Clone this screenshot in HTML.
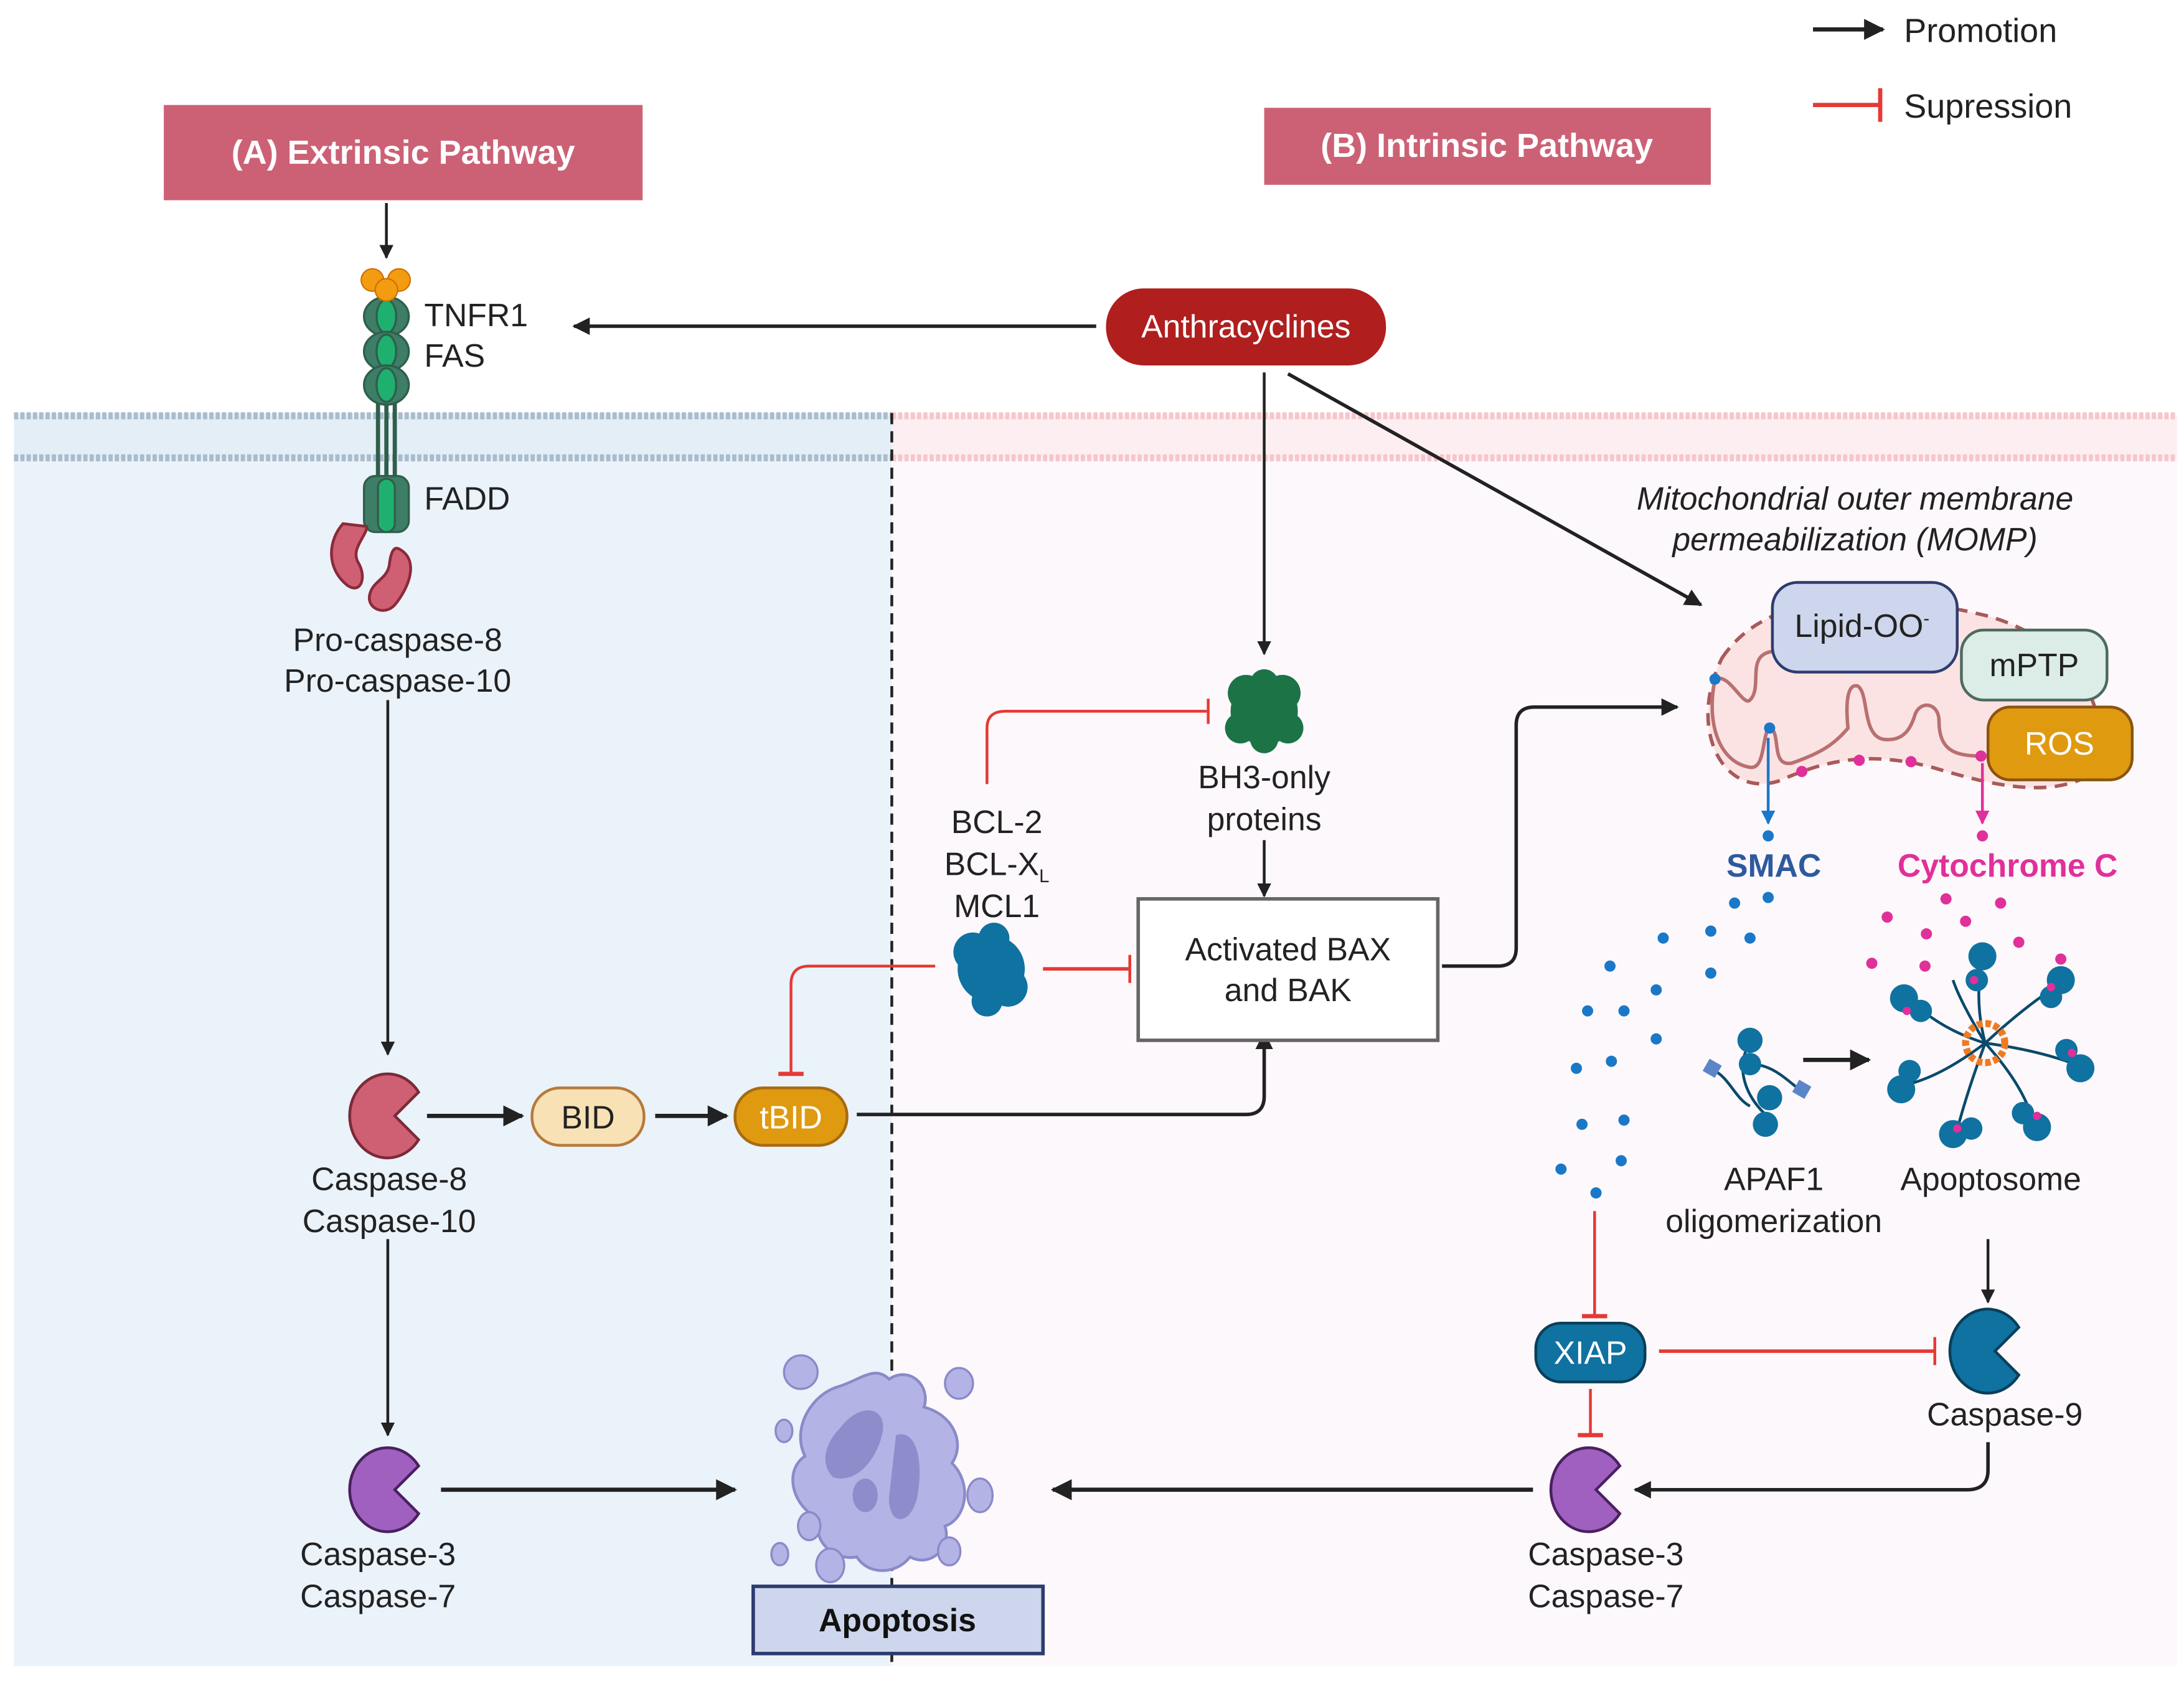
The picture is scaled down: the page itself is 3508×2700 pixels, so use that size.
<!DOCTYPE html>
<html><head><meta charset="utf-8"><style>
html,body{margin:0;padding:0;background:#fff;}
svg{display:block;}
text{font-family:"Liberation Sans",sans-serif;}
</style></head><body>
<svg width="3508" height="2700" viewBox="0 0 1560 1200.6" preserveAspectRatio="none" xmlns="http://www.w3.org/2000/svg">
<defs>
<marker id="ah" viewBox="0 0 10 10" refX="9" refY="5" markerWidth="5" markerHeight="5" orient="auto"><path d="M0,0 L10,5 L0,10 Z" fill="#222"/></marker>
<marker id="ahb" viewBox="0 0 10 10" refX="9" refY="5" markerWidth="5" markerHeight="5" orient="auto"><path d="M0,0 L10,5 L0,10 Z" fill="#1a78c8"/></marker>
<marker id="ahp" viewBox="0 0 10 10" refX="9" refY="5" markerWidth="5" markerHeight="5" orient="auto"><path d="M0,0 L10,5 L0,10 Z" fill="#e0309a"/></marker>
</defs>
<rect width="1560" height="1201" fill="#fff"/>
<!-- regions -->
<rect x="10" y="295" width="627" height="895" fill="#eaf2fa"/>
<rect x="637" y="295" width="918" height="895" fill="#fdf8fb"/>
<!-- membrane -->
<rect x="10" y="297" width="627" height="31" fill="#e4eef6"/>
<rect x="637" y="297" width="918" height="31" fill="#fdeff1"/>
<line x1="10" y1="297" x2="637" y2="297" stroke="#a9bccb" stroke-width="5" stroke-dasharray="3 1.5"/>
<line x1="10" y1="327" x2="637" y2="327" stroke="#a9bccb" stroke-width="5" stroke-dasharray="3 1.5"/>
<line x1="637" y1="297" x2="1555" y2="297" stroke="#f6c6cc" stroke-width="5" stroke-dasharray="3 1.5"/>
<line x1="637" y1="327" x2="1555" y2="327" stroke="#f6c6cc" stroke-width="5" stroke-dasharray="3 1.5"/>
<line x1="637" y1="295" x2="637" y2="1190" stroke="#222" stroke-width="2" stroke-dasharray="8 5"/>

<!-- legend -->
<line x1="1295" y1="21" x2="1345" y2="21" stroke="#222" stroke-width="3" marker-end="url(#ah)"/>
<text x="1360" y="30" font-size="24" fill="#222">Promotion</text>
<line x1="1295" y1="75" x2="1343" y2="75" stroke="#e53935" stroke-width="3"/>
<line x1="1343" y1="63" x2="1343" y2="87" stroke="#e53935" stroke-width="3"/>
<text x="1360" y="84" font-size="24" fill="#222">Supression</text>

<!-- headers -->
<rect x="117" y="75" width="342" height="68" fill="#cc6176"/>
<text x="288" y="117" font-size="24" font-weight="bold" fill="#fff" text-anchor="middle">(A) Extrinsic  Pathway</text>
<rect x="903" y="77" width="319" height="55" fill="#cc6176"/>
<text x="1062" y="112" font-size="24" font-weight="bold" fill="#fff" text-anchor="middle">(B) Intrinsic  Pathway</text>

<line x1="276" y1="145" x2="276" y2="184" stroke="#222" stroke-width="2" marker-end="url(#ah)"/>

<!-- receptor -->
<line x1="270" y1="280" x2="270" y2="345" stroke="#2f5f4c" stroke-width="3"/>
<line x1="276" y1="280" x2="276" y2="345" stroke="#2f5f4c" stroke-width="3"/>
<line x1="282" y1="280" x2="282" y2="345" stroke="#2f5f4c" stroke-width="3"/>
<g stroke="#2f5f4c" stroke-width="1.5">
<ellipse cx="276" cy="226" rx="16" ry="14" fill="#3e7d66"/><ellipse cx="276" cy="226" rx="7" ry="12" fill="#1fb070"/>
<ellipse cx="276" cy="251" rx="16" ry="14" fill="#3e7d66"/><ellipse cx="276" cy="251" rx="7" ry="12" fill="#1fb070"/>
<ellipse cx="276" cy="275" rx="16" ry="14" fill="#3e7d66"/><ellipse cx="276" cy="275" rx="7" ry="12" fill="#1fb070"/>
<rect x="260" y="340" width="32" height="40" rx="8" fill="#3e7d66"/><rect x="270" y="342" width="12" height="38" rx="6" fill="#1fb070"/>
</g>
<g fill="#f39c12" stroke="#d07000" stroke-width="1">
<circle cx="266" cy="200" r="8"/><circle cx="285" cy="200" r="8"/><circle cx="276" cy="207" r="8"/>
</g>
<path d="M245,374 C235,385 232,405 248,418 C258,425 262,412 256,402 C250,392 262,383 262,376 Z" fill="#cf5f72" stroke="#8a2a3a" stroke-width="2"/>
<path d="M285,392 C300,400 292,420 282,432 C275,440 262,435 264,425 C266,415 276,414 278,404 C279,395 281,390 285,392 Z" fill="#cf5f72" stroke="#8a2a3a" stroke-width="2"/>
<text x="303" y="233" font-size="23" fill="#222">TNFR1</text>
<text x="303" y="262" font-size="23" fill="#222">FAS</text>
<text x="303" y="364" font-size="23" fill="#222">FADD</text>
<text x="284" y="465" font-size="23" fill="#222" text-anchor="middle">Pro-caspase-8</text>
<text x="284" y="494" font-size="23" fill="#222" text-anchor="middle">Pro-caspase-10</text>

<!-- Anthracyclines -->
<rect x="790" y="206" width="200" height="55" rx="27" fill="#b01e1e"/>
<text x="890" y="241" font-size="23" fill="#fff" text-anchor="middle">Anthracyclines</text>
<line x1="783" y1="233" x2="410" y2="233" stroke="#222" stroke-width="2.5" marker-end="url(#ah)"/>
<line x1="903" y1="266" x2="903" y2="467" stroke="#222" stroke-width="2" marker-end="url(#ah)"/>
<line x1="920" y1="267" x2="1215" y2="432" stroke="#222" stroke-width="2.5" marker-end="url(#ah)"/>

<text x="1325" y="364" font-size="23" fill="#222" text-anchor="middle" font-style="italic">Mitochondrial outer membrane</text>
<text x="1325" y="393" font-size="23" fill="#222" text-anchor="middle" font-style="italic">permeabilization (MOMP)</text>

<!-- extrinsic chain -->
<line x1="277" y1="500" x2="277" y2="753" stroke="#222" stroke-width="2" marker-end="url(#ah)"/>
<path d="M299,780 A27 30 0 1 0 299,814 L282,797 Z" fill="#cf5f72" stroke="#7a2a38" stroke-width="2"/>
<text x="278" y="850" font-size="23" fill="#222" text-anchor="middle">Caspase-8</text>
<text x="278" y="880" font-size="23" fill="#222" text-anchor="middle">Caspase-10</text>
<line x1="305" y1="797" x2="373" y2="797" stroke="#222" stroke-width="3" marker-end="url(#ah)"/>
<rect x="380" y="777" width="80" height="41" rx="20" fill="#f8e1b5" stroke="#b77a3a" stroke-width="2"/>
<text x="420" y="806" font-size="23" fill="#222" text-anchor="middle">BID</text>
<line x1="468" y1="797" x2="519" y2="797" stroke="#222" stroke-width="3" marker-end="url(#ah)"/>
<rect x="525" y="777" width="80" height="41" rx="20" fill="#e09a10" stroke="#a86a10" stroke-width="2"/>
<text x="565" y="806" font-size="23" fill="#fff" text-anchor="middle">tBID</text>
<path d="M612,796 L890,796 Q903,796 903,783 L903,738" fill="none" stroke="#222" stroke-width="2.5" marker-end="url(#ah)"/>
<path d="M565,767 L565,703 Q565,690 578,690 L668,690" fill="none" stroke="#e53935" stroke-width="2"/>
<line x1="556" y1="767" x2="574" y2="767" stroke="#e53935" stroke-width="3"/>

<line x1="277" y1="885" x2="277" y2="1025" stroke="#222" stroke-width="2" marker-end="url(#ah)"/>
<path d="M299,1047 A27 30 0 1 0 299,1081 L282,1064 Z" fill="#a060c0" stroke="#4a2060" stroke-width="2"/>
<text x="270" y="1118" font-size="23" fill="#222" text-anchor="middle">Caspase-3</text>
<text x="270" y="1148" font-size="23" fill="#222" text-anchor="middle">Caspase-7</text>
<line x1="315" y1="1064" x2="525" y2="1064" stroke="#222" stroke-width="3" marker-end="url(#ah)"/>

<!-- BCL / BH3 -->
<g fill="#0f72a0"><circle cx="708" cy="692" r="24"/><circle cx="695" cy="680" r="14"/><circle cx="720" cy="705" r="14"/><circle cx="710" cy="670" r="11"/><circle cx="705" cy="715" r="11"/></g>
<line x1="745" y1="692" x2="806" y2="692" stroke="#e53935" stroke-width="2.5"/>
<line x1="807" y1="682" x2="807" y2="702" stroke="#e53935" stroke-width="2"/>
<text x="712" y="595" font-size="23" fill="#222" text-anchor="middle">BCL-2</text>
<text x="712" y="625" font-size="23" fill="#222" text-anchor="middle">BCL-X<tspan font-size="13" dy="5">L</tspan></text>
<text x="712" y="655" font-size="23" fill="#222" text-anchor="middle">MCL1</text>
<path d="M705,560 L705,520 Q705,508 718,508 L862,508" fill="none" stroke="#e53935" stroke-width="2"/>
<line x1="863" y1="499" x2="863" y2="517" stroke="#e53935" stroke-width="2"/>
<g fill="#1b7346"><circle cx="903" cy="508" r="24"/><circle cx="890" cy="495" r="13"/><circle cx="916" cy="495" r="13"/><circle cx="903" cy="488" r="10"/><circle cx="903" cy="528" r="10"/><circle cx="886" cy="520" r="11"/><circle cx="920" cy="520" r="11"/></g>
<text x="903" y="563" font-size="23" fill="#222" text-anchor="middle">BH3-only</text>
<text x="903" y="593" font-size="23" fill="#222" text-anchor="middle">proteins</text>
<line x1="903" y1="600" x2="903" y2="640" stroke="#222" stroke-width="2" marker-end="url(#ah)"/>
<rect x="813" y="642" width="214" height="101" fill="#fff" stroke="#666" stroke-width="2.5"/>
<text x="920" y="686" font-size="23" fill="#222" text-anchor="middle">Activated BAX</text>
<text x="920" y="715" font-size="23" fill="#222" text-anchor="middle">and BAK</text>
<path d="M1030,690 L1070,690 Q1083,690 1083,677 L1083,518 Q1083,505 1096,505 L1198,505" fill="none" stroke="#222" stroke-width="2.5" marker-end="url(#ah)"/>

<!-- mitochondria -->
<path d="M1230,470 C1260,425 1330,418 1420,440 C1490,460 1515,520 1490,555 C1460,570 1420,560 1380,548 C1330,535 1300,545 1270,558 C1230,570 1205,520 1230,470 Z" fill="#fbe3e3" stroke="#a85a5a" stroke-width="2.5" stroke-dasharray="9 6"/>
<path d="M1225,485 C1235,480 1245,505 1250,500 C1260,490 1245,465 1270,465 M1225,485 C1218,520 1230,545 1250,548 C1262,550 1258,520 1265,520 C1272,525 1265,548 1280,545 C1300,538 1310,532 1320,520 C1318,500 1320,488 1327,490 C1335,495 1330,525 1345,528 C1360,530 1365,520 1368,510 C1372,500 1385,502 1385,515 C1385,535 1395,540 1415,540" fill="none" stroke="#b97070" stroke-width="2.5"/>
<rect x="1266" y="416" width="132" height="64" rx="18" fill="#cdd6ec" stroke="#2d3c6e" stroke-width="2"/>
<text x="1330" y="455" font-size="23" fill="#222" text-anchor="middle">Lipid-OO<tspan font-size="13" dy="-9">-</tspan></text>
<rect x="1401" y="450" width="104" height="50" rx="16" fill="#dcece6" stroke="#4d6a60" stroke-width="2"/>
<text x="1453" y="483" font-size="23" fill="#222" text-anchor="middle">mPTP</text>
<rect x="1420" y="505" width="103" height="52" rx="16" fill="#e09a10" stroke="#8a5510" stroke-width="2"/>
<text x="1471" y="539" font-size="23" fill="#fff" text-anchor="middle">ROS</text>
<circle cx="1225" cy="485" r="4" fill="#1a78c8"/><circle cx="1264" cy="520" r="4" fill="#1a78c8"/>
<g fill="#e0309a"><circle cx="1287" cy="551" r="4"/><circle cx="1328" cy="543" r="4"/><circle cx="1365" cy="544" r="4"/><circle cx="1415" cy="540" r="4"/></g>
<line x1="1263" y1="527" x2="1263" y2="588" stroke="#1a78c8" stroke-width="2" marker-end="url(#ahb)"/>
<line x1="1416" y1="545" x2="1416" y2="588" stroke="#e0309a" stroke-width="2" marker-end="url(#ahp)"/>
<text x="1267" y="626" font-size="23" font-weight="bold" fill="#2d5a9e" text-anchor="middle">SMAC</text>
<text x="1434" y="626" font-size="23" font-weight="bold" fill="#e0309a" text-anchor="middle">Cytochrome C</text>

<g fill="#1a78c8">
<circle cx="1263" cy="597" r="4"/><circle cx="1239" cy="645" r="4"/><circle cx="1263" cy="641" r="4"/><circle cx="1188" cy="670" r="4"/><circle cx="1222" cy="665" r="4"/><circle cx="1250" cy="670" r="4"/><circle cx="1150" cy="690" r="4"/><circle cx="1222" cy="695" r="4"/><circle cx="1183" cy="707" r="4"/><circle cx="1134" cy="722" r="4"/><circle cx="1160" cy="722" r="4"/><circle cx="1183" cy="742" r="4"/><circle cx="1126" cy="763" r="4"/><circle cx="1151" cy="758" r="4"/><circle cx="1130" cy="803" r="4"/><circle cx="1160" cy="800" r="4"/><circle cx="1115" cy="835" r="4"/><circle cx="1158" cy="829" r="4"/><circle cx="1140" cy="852" r="4"/>
</g>
<g fill="#e0309a">
<circle cx="1416" cy="597" r="4"/><circle cx="1390" cy="642" r="4"/><circle cx="1348" cy="655" r="4"/><circle cx="1376" cy="667" r="4"/><circle cx="1404" cy="658" r="4"/><circle cx="1429" cy="645" r="4"/><circle cx="1442" cy="673" r="4"/><circle cx="1472" cy="685" r="4"/><circle cx="1337" cy="688" r="4"/><circle cx="1375" cy="690" r="4"/>
</g>

<!-- APAF1 -->
<g stroke="#0a4a6a" stroke-width="2" fill="none"><path d="M1250,745 C1240,760 1245,780 1260,795 M1250,760 C1265,760 1275,770 1285,778 M1225,765 C1235,770 1240,785 1250,790"/></g>
<g fill="#0f72a0"><circle cx="1250" cy="743" r="9"/><circle cx="1250" cy="760" r="8"/><circle cx="1264" cy="784" r="9"/><circle cx="1261" cy="803" r="9"/></g>
<rect x="1218" y="758" width="10" height="10" fill="#5a86c8" transform="rotate(30 1223 763)"/>
<rect x="1282" y="773" width="10" height="10" fill="#5a86c8" transform="rotate(30 1287 778)"/>
<line x1="1288" y1="757" x2="1335" y2="757" stroke="#222" stroke-width="3" marker-end="url(#ah)"/>
<!-- apoptosome -->
<g stroke="#0a4a6a" stroke-width="2" fill="none">
<path d="M1418,745 Q1410,715 1416,685"/><path d="M1418,745 Q1445,720 1468,705"/><path d="M1418,745 Q1455,750 1482,760"/><path d="M1418,745 Q1445,775 1452,800"/><path d="M1418,745 Q1405,780 1398,807"/><path d="M1418,745 Q1385,770 1360,775"/><path d="M1418,745 Q1385,735 1362,712"/><path d="M1418,745 Q1400,715 1395,700"/>
</g>
<g fill="#0f72a0">
<circle cx="1416" cy="683" r="10"/><circle cx="1412" cy="700" r="8"/>
<circle cx="1472" cy="700" r="10"/><circle cx="1465" cy="712" r="8"/>
<circle cx="1486" cy="763" r="10"/><circle cx="1476" cy="750" r="8"/>
<circle cx="1455" cy="805" r="10"/><circle cx="1445" cy="795" r="8"/>
<circle cx="1395" cy="810" r="10"/><circle cx="1408" cy="806" r="8"/>
<circle cx="1358" cy="778" r="10"/><circle cx="1364" cy="765" r="8"/>
<circle cx="1360" cy="713" r="10"/><circle cx="1372" cy="722" r="8"/>
</g>
<g fill="#e0309a"><circle cx="1410" cy="700" r="3"/><circle cx="1465" cy="705" r="3"/><circle cx="1480" cy="752" r="3"/><circle cx="1455" cy="797" r="3"/><circle cx="1398" cy="806" r="3"/><circle cx="1362" cy="722" r="3"/></g>
<circle cx="1418" cy="745" r="14" fill="none" stroke="#f07a20" stroke-width="5" stroke-dasharray="4 2"/>
<text x="1267" y="850" font-size="23" fill="#222" text-anchor="middle">APAF1</text>
<text x="1267" y="880" font-size="23" fill="#222" text-anchor="middle">oligomerization</text>
<text x="1422" y="850" font-size="23" fill="#222" text-anchor="middle">Apoptosome</text>

<line x1="1420" y1="885" x2="1420" y2="930" stroke="#222" stroke-width="2" marker-end="url(#ah)"/>
<path d="M1442,948 A27 30 0 1 0 1442,982 L1425,965 Z" fill="#0f72a0" stroke="#0a3f5a" stroke-width="2"/>
<text x="1432" y="1018" font-size="23" fill="#222" text-anchor="middle">Caspase-9</text>

<line x1="1139" y1="865" x2="1139" y2="940" stroke="#e53935" stroke-width="2"/>
<line x1="1130" y1="940" x2="1148" y2="940" stroke="#e53935" stroke-width="3"/>
<rect x="1097" y="945" width="78" height="42" rx="18" fill="#0f72a0" stroke="#0a3f5a" stroke-width="2"/>
<text x="1136" y="974" font-size="23" fill="#fff" text-anchor="middle">XIAP</text>
<line x1="1185" y1="965" x2="1382" y2="965" stroke="#e53935" stroke-width="2.5"/>
<line x1="1382" y1="955" x2="1382" y2="975" stroke="#e53935" stroke-width="2"/>
<line x1="1136" y1="992" x2="1136" y2="1025" stroke="#e53935" stroke-width="2"/>
<line x1="1127" y1="1025" x2="1145" y2="1025" stroke="#e53935" stroke-width="3"/>

<path d="M1420,1030 L1420,1050 Q1420,1064 1405,1064 L1168,1064" fill="none" stroke="#222" stroke-width="2.5" marker-end="url(#ah)"/>
<path d="M1157,1047 A27 30 0 1 0 1157,1081 L1140,1064 Z" fill="#a060c0" stroke="#4a2060" stroke-width="2"/>
<text x="1147" y="1118" font-size="23" fill="#222" text-anchor="middle">Caspase-3</text>
<text x="1147" y="1148" font-size="23" fill="#222" text-anchor="middle">Caspase-7</text>
<line x1="1095" y1="1064" x2="752" y2="1064" stroke="#222" stroke-width="3" marker-end="url(#ah)"/>

<!-- apoptotic cell -->
<path d="M600,990 C615,985 625,975 635,985 C650,975 665,990 660,1005 C680,1010 690,1030 680,1045 C695,1060 690,1085 675,1090 C680,1105 665,1120 650,1112 C640,1125 620,1125 612,1112 C595,1115 580,1100 585,1085 C565,1075 560,1050 575,1040 C565,1020 580,995 600,990 Z" fill="#b3b3e6" stroke="#8a8ac8" stroke-width="2"/>
<path d="M600,1020 C615,1000 635,1005 630,1025 C625,1045 610,1060 595,1055 C585,1045 590,1030 600,1020 Z" fill="#8d8dcc"/>
<path d="M640,1025 C655,1020 660,1045 655,1070 C650,1090 635,1090 635,1070 Z" fill="#8d8dcc"/>
<ellipse cx="618" cy="1068" rx="9" ry="12" fill="#8d8dcc"/>
<g fill="#b3b3e6" stroke="#8a8ac8" stroke-width="1.5">
<ellipse cx="572" cy="980" rx="12" ry="12"/><ellipse cx="560" cy="1022" rx="6" ry="8"/><ellipse cx="685" cy="988" rx="10" ry="11"/><ellipse cx="700" cy="1068" rx="9" ry="12"/>
<ellipse cx="578" cy="1090" rx="8" ry="10"/><ellipse cx="557" cy="1110" rx="6" ry="8"/><ellipse cx="593" cy="1118" rx="10" ry="12"/><ellipse cx="678" cy="1108" rx="8" ry="10"/>
</g>
<rect x="538" y="1133" width="207" height="48" fill="#cdd6ec" stroke="#2d3c6e" stroke-width="2.5"/>
<text x="641" y="1165" font-size="23" font-weight="bold" fill="#111" text-anchor="middle">Apoptosis</text>
</svg>
</body></html>
